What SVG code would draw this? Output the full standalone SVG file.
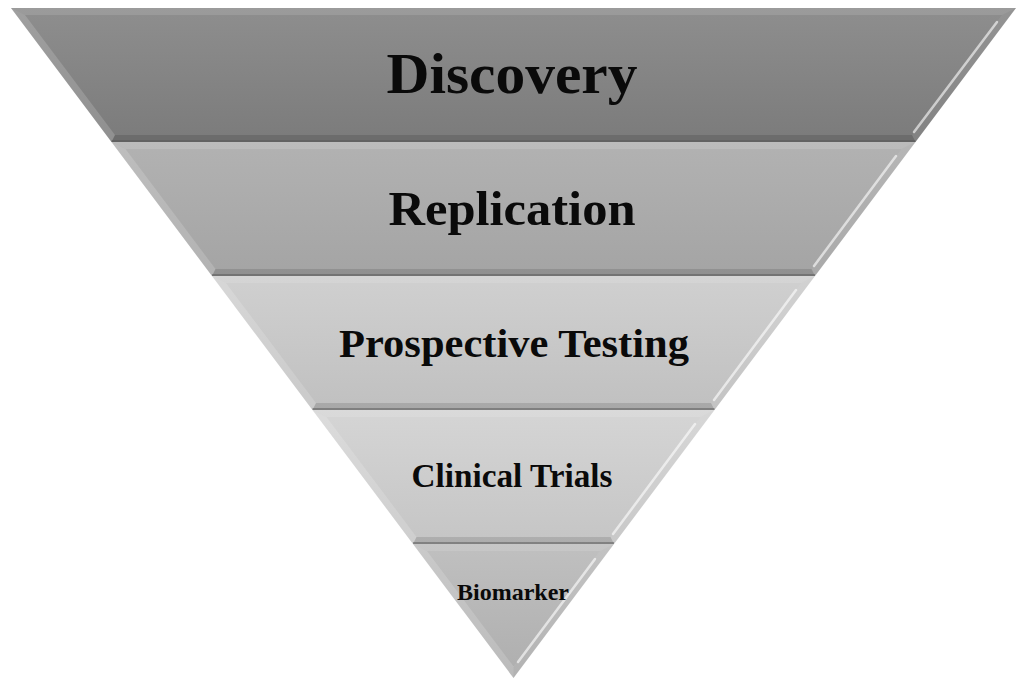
<svg xmlns="http://www.w3.org/2000/svg" width="1024" height="687" viewBox="0 0 1024 687">
<defs>
<linearGradient id="g1" x1="0" y1="0" x2="0" y2="1"><stop offset="0" stop-color="#8e8e8e"/><stop offset="1" stop-color="#7b7b7b"/></linearGradient>
<linearGradient id="g2" x1="0" y1="0" x2="0" y2="1"><stop offset="0" stop-color="#b2b2b2"/><stop offset="1" stop-color="#a4a4a4"/></linearGradient>
<linearGradient id="g3" x1="0" y1="0" x2="0" y2="1"><stop offset="0" stop-color="#d0d0d0"/><stop offset="1" stop-color="#c0c0c0"/></linearGradient>
<linearGradient id="g4" x1="0" y1="0" x2="0" y2="1"><stop offset="0" stop-color="#d5d5d5"/><stop offset="1" stop-color="#c5c5c5"/></linearGradient>
<linearGradient id="g5" x1="0" y1="0" x2="0" y2="1"><stop offset="0" stop-color="#c0c0c0"/><stop offset="1" stop-color="#aeaeae"/></linearGradient>
</defs>
<style>
.bt{fill:#ffffff;fill-opacity:0.12}
.bl{fill:#ffffff;fill-opacity:0.16}
.br{fill:#ffffff;fill-opacity:0.06}
.bb{fill:#000000;fill-opacity:0.12}
.hl{stroke:#ffffff;stroke-opacity:0.6;stroke-width:2.5;stroke-linecap:round;fill:none}
.edge{stroke:#555555;stroke-opacity:0.5;stroke-width:2;fill:none}
.lbl{font-family:"Liberation Serif","DejaVu Serif",serif;font-weight:bold;fill:#0a0a0a;text-anchor:middle}
</style>

<g id="discovery">
<polygon points="11,8 1016,8 915.5,142 111.5,142" fill="url(#g1)"/>
<polygon class="bt" points="11,8 1016,8 1002,15 25,15"/>
<polygon class="bl" points="11,8 25,15 115,135 111.5,142"/>
<polygon class="br" points="1016,8 915.5,142 912,135 1002,15"/>
<polygon class="bb" points="111.5,142 115,135 912,135 915.5,142"/>
<line class="hl" x1="997" y1="22" x2="914" y2="132"/>
<line class="edge" x1="111.5" y1="141" x2="915.5" y2="141"/>
<text class="lbl" x="512" y="93" font-size="56" textLength="251" lengthAdjust="spacingAndGlyphs">Discovery</text>
</g>

<g id="replication">
<polygon points="111.5,142 915.5,142 815,276 212,276" fill="url(#g2)"/>
<polygon class="bt" points="111.5,142 915.5,142 901.5,149 125.5,149"/>
<polygon class="bl" points="111.5,142 125.5,149 215.5,269 212,276"/>
<polygon class="br" points="915.5,142 815,276 811.5,269 901.5,149"/>
<polygon class="bb" points="212,276 215.5,269 811.5,269 815,276"/>
<line class="hl" x1="896" y1="156" x2="814" y2="266"/>
<line class="edge" x1="212" y1="275" x2="815" y2="275"/>
<text class="lbl" x="512" y="225" font-size="48" textLength="247" lengthAdjust="spacingAndGlyphs">Replication</text>
</g>

<g id="prospective">
<polygon points="212,276 815,276 714.5,410 312.5,410" fill="url(#g3)"/>
<polygon class="bt" points="212,276 815,276 801,283 226,283"/>
<polygon class="bl" points="212,276 226,283 316,403 312.5,410"/>
<polygon class="br" points="815,276 714.5,410 711,403 801,283"/>
<polygon class="bb" points="312.5,410 316,403 711,403 714.5,410"/>
<line class="hl" x1="796" y1="290" x2="714" y2="400"/>
<line class="edge" x1="312.5" y1="409" x2="714.5" y2="409"/>
<text class="lbl" x="514" y="357" font-size="40" textLength="350" lengthAdjust="spacingAndGlyphs">Prospective Testing</text>
</g>

<g id="clinical">
<polygon points="312.5,410 714.5,410 614,544 413,544" fill="url(#g4)"/>
<polygon class="bt" points="312.5,410 714.5,410 700.5,417 326.5,417"/>
<polygon class="bl" points="312.5,410 326.5,417 416.5,537 413,544"/>
<polygon class="br" points="714.5,410 614,544 610.5,537 700.5,417"/>
<polygon class="bb" points="413,544 416.5,537 610.5,537 614,544"/>
<line class="hl" x1="695" y1="424" x2="613" y2="534"/>
<line class="edge" x1="413" y1="543" x2="614" y2="543"/>
<text class="lbl" x="512" y="487" font-size="33" textLength="201" lengthAdjust="spacingAndGlyphs">Clinical Trials</text>
</g>

<g id="biomarker">
<polygon points="413,544 614,544 513.5,678" fill="url(#g5)"/>
<polygon class="bt" points="413,544 614,544 600,551 427,551"/>
<polygon class="bl" points="413,544 427,551 513.5,666.3 513.5,678"/>
<polygon class="br" points="614,544 513.5,678 513.5,666.3 600,551"/>
<line class="hl" x1="595" y1="559" x2="518" y2="662"/>
<text class="lbl" x="513" y="600" font-size="23" textLength="112" lengthAdjust="spacingAndGlyphs">Biomarker</text>
</g>
</svg>
